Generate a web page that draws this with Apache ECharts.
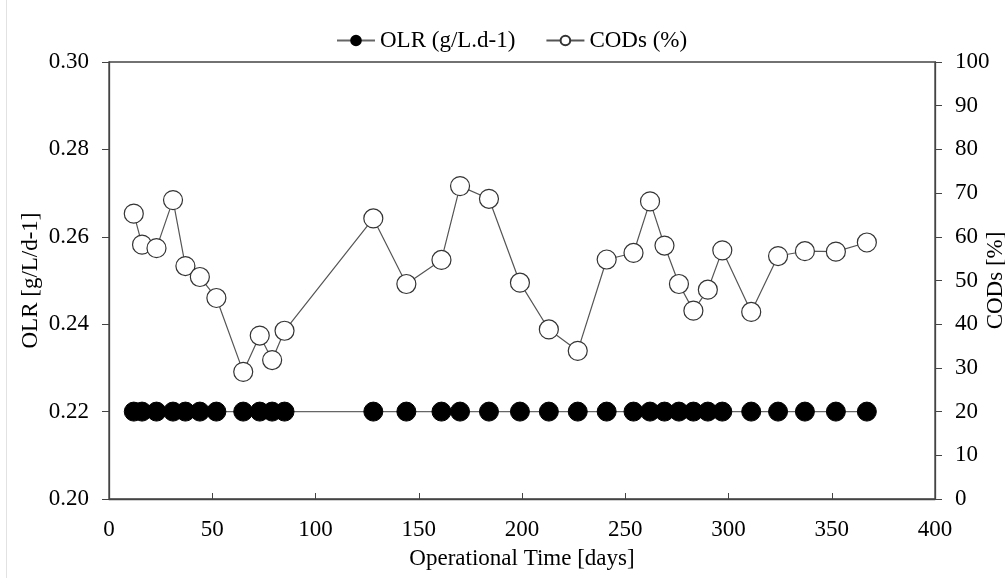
<!DOCTYPE html>
<html>
<head>
<meta charset="utf-8">
<script src="https://cdn.jsdelivr.net/npm/echarts@6/dist/echarts.min.js"></script>
<style>
html,body{margin:0;padding:0;background:#fff;overflow:hidden;}
#c{position:absolute;left:0;top:0;width:1005px;height:578px;}
</style>
</head>
<body>
<div id="c"></div>
<script>
const days = [12,16,23,31,37,44,52,65,73,79,85,128,144,161,170,184,199,213,227,241,254,262,269,276,283,290,297,311,324,337,352,367];
const olr = [0.22,0.22,0.22,0.22,0.22,0.22,0.22,0.22,0.22,0.22,0.22,0.22,0.22,0.22,0.22,0.22,0.22,0.22,0.22,0.22,0.22,0.22,0.22,0.22,0.22,0.22,0.22,0.22,0.22,0.22,0.22,0.22];
const cods = [65.3,58.2,57.4,68.4,53.3,50.8,46.0,29.1,37.4,31.8,38.5,64.2,49.2,54.7,71.6,68.7,49.5,38.8,33.9,54.8,56.3,68.1,58.0,49.2,43.1,47.9,56.9,42.8,55.6,56.7,56.6,58.7];
const xTicks = [0,50,100,150,200,250,300,350,400];

const font = '"Liberation Serif","Times New Roman",serif';
const axisColor = '#444';
const FS = 23;

const chart = echarts.init(document.getElementById('c'), null, {renderer:'canvas', width:1005, height:578});
chart.setOption({
  animation:false,
  backgroundColor:'#fff',
  textStyle:{fontFamily:font},
  graphic:[{type:'line',shape:{x1:6.5,y1:0,x2:6.5,y2:578},style:{stroke:'#e2e2e2',lineWidth:1},silent:true}],
  legend:{
    top:24,
    left:331,
    itemGap:30,
    itemWidth:38,
    itemHeight:12,
    textStyle:{fontFamily:font,fontSize:FS,color:'#000'},
    data:['OLR (g/L.d-1)','CODs (%)']
  },
  grid:{left:109,right:70,top:62,bottom:79,containLabel:false,outerBoundsMode:'none',show:true,borderColor:axisColor,borderWidth:1.3,backgroundColor:'transparent'},
  xAxis:{
    type:'value',min:0,max:400,interval:50,
    name:'Operational Time [days]',nameLocation:'middle',nameGap:48,nameMoveOverlap:false,
    nameTextStyle:{fontFamily:font,fontSize:FS,color:'#000'},
    axisLine:{show:true,lineStyle:{color:axisColor,width:1.3}},
    axisTick:{show:true,inside:true,length:6,lineStyle:{color:axisColor}},
    axisLabel:{fontFamily:font,fontSize:FS,color:'#000',margin:19},
    splitLine:{show:false}
  },
  yAxis:[
    {
      type:'value',min:0.20,max:0.30,interval:0.02,position:'left',
      name:'OLR [g/L/d-1]',nameLocation:'middle',nameGap:67,nameRotate:90,nameMoveOverlap:false,
      nameTextStyle:{fontFamily:font,fontSize:FS,color:'#000'},
      axisLine:{show:true,lineStyle:{color:axisColor,width:1.3}},
      axisTick:{show:true,inside:false,length:7,lineStyle:{color:axisColor}},
      axisLabel:{fontFamily:font,fontSize:FS,color:'#000',margin:20,formatter:v=>v.toFixed(2)},
      splitLine:{show:false}
    },
    {
      type:'value',min:0,max:100,interval:10,position:'right',
      name:'CODs [%]',nameLocation:'middle',nameGap:49,nameRotate:90,nameMoveOverlap:false,
      nameTextStyle:{fontFamily:font,fontSize:FS,color:'#000'},
      axisLine:{show:true,lineStyle:{color:axisColor,width:1.3}},
      axisTick:{show:true,inside:false,length:7,lineStyle:{color:axisColor}},
      axisLabel:{fontFamily:font,fontSize:FS,color:'#000',margin:20},
      splitLine:{show:false}
    }
  ],
  series:[
    {
      name:'OLR (g/L.d-1)',type:'line',yAxisIndex:0,
      data:days.map((d,i)=>[d,olr[i]]),
      symbol:'circle',symbolSize:19,
      lineStyle:{color:'#666',width:1.3},
      itemStyle:{color:'#000',borderColor:'#000',borderWidth:1},
      z:3
    },
    {
      name:'CODs (%)',type:'line',yAxisIndex:1,
      data:days.map((d,i)=>[d,cods[i]]),
      symbol:'circle',symbolSize:19,
      lineStyle:{color:'#555',width:1.2},
      itemStyle:{color:'#fff',borderColor:'#333',borderWidth:1.2},
      z:4
    }
  ]
});
</script>
</body>
</html>
